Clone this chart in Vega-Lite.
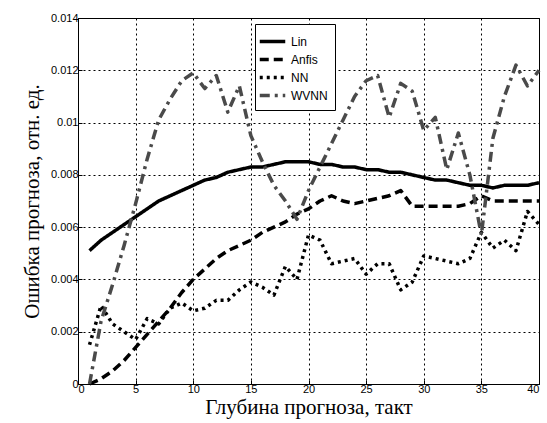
{
  "$schema": "https://vega.github.io/schema/vega-lite/v6.json",
  "width": 461,
  "height": 366,
  "autosize": {"type": "none"},
  "padding": {"left": 78, "top": 18, "right": 8, "bottom": 39},
  "background": "white",
  "config": {
    "view": {"stroke": "black", "strokeWidth": 1},
    "axis": {
      "labelFont": "Liberation Sans", "labelFontSize": 11, "labelColor": "black",
      "titleFont": "Liberation Serif", "titleFontSize": 21, "titleFontWeight": "normal", "titleColor": "black",
      "grid": true, "gridColor": "black", "gridDash": [2, 3], "gridOpacity": 1, "gridWidth": 1,
      "domain": false, "tickColor": "black", "tickSize": -4
    }
  },
  "data": {"values": [
    {"x":1,"Lin":0.0051,"Anfis":0.0000,"NN":0.0015,"WVNN":0.0000},
    {"x":2,"Lin":0.0055,"Anfis":0.0002,"NN":0.0030,"WVNN":0.0024},
    {"x":3,"Lin":0.0058,"Anfis":0.0005,"NN":0.0023,"WVNN":0.0038},
    {"x":4,"Lin":0.0061,"Anfis":0.0009,"NN":0.0020,"WVNN":0.0053},
    {"x":5,"Lin":0.0064,"Anfis":0.0014,"NN":0.0017,"WVNN":0.0069},
    {"x":6,"Lin":0.0067,"Anfis":0.0019,"NN":0.0025,"WVNN":0.0086},
    {"x":7,"Lin":0.0070,"Anfis":0.0024,"NN":0.0023,"WVNN":0.0101},
    {"x":8,"Lin":0.0072,"Anfis":0.0029,"NN":0.0029,"WVNN":0.0109},
    {"x":9,"Lin":0.0074,"Anfis":0.0035,"NN":0.0031,"WVNN":0.0116},
    {"x":10,"Lin":0.0076,"Anfis":0.0040,"NN":0.0028,"WVNN":0.0119},
    {"x":11,"Lin":0.0078,"Anfis":0.0044,"NN":0.0029,"WVNN":0.0113},
    {"x":12,"Lin":0.0079,"Anfis":0.0048,"NN":0.0032,"WVNN":0.0118},
    {"x":13,"Lin":0.0081,"Anfis":0.0051,"NN":0.0032,"WVNN":0.0104},
    {"x":14,"Lin":0.0082,"Anfis":0.0053,"NN":0.0036,"WVNN":0.0114},
    {"x":15,"Lin":0.0083,"Anfis":0.0055,"NN":0.0039,"WVNN":0.0095},
    {"x":16,"Lin":0.0083,"Anfis":0.0058,"NN":0.0037,"WVNN":0.0085},
    {"x":17,"Lin":0.0084,"Anfis":0.0060,"NN":0.0034,"WVNN":0.0076},
    {"x":18,"Lin":0.0085,"Anfis":0.0062,"NN":0.0045,"WVNN":0.0070},
    {"x":19,"Lin":0.0085,"Anfis":0.0065,"NN":0.0040,"WVNN":0.0063},
    {"x":20,"Lin":0.0085,"Anfis":0.0067,"NN":0.0057,"WVNN":0.0074},
    {"x":21,"Lin":0.0084,"Anfis":0.0070,"NN":0.0055,"WVNN":0.0083},
    {"x":22,"Lin":0.0084,"Anfis":0.0072,"NN":0.0046,"WVNN":0.0092},
    {"x":23,"Lin":0.0083,"Anfis":0.0070,"NN":0.0047,"WVNN":0.0101},
    {"x":24,"Lin":0.0083,"Anfis":0.0069,"NN":0.0048,"WVNN":0.0110},
    {"x":25,"Lin":0.0082,"Anfis":0.0070,"NN":0.0042,"WVNN":0.0116},
    {"x":26,"Lin":0.0082,"Anfis":0.0071,"NN":0.0046,"WVNN":0.0118},
    {"x":27,"Lin":0.0081,"Anfis":0.0072,"NN":0.0046,"WVNN":0.0102},
    {"x":28,"Lin":0.0081,"Anfis":0.0074,"NN":0.0036,"WVNN":0.0115},
    {"x":29,"Lin":0.0080,"Anfis":0.0068,"NN":0.0039,"WVNN":0.0112},
    {"x":30,"Lin":0.0079,"Anfis":0.0068,"NN":0.0049,"WVNN":0.0097},
    {"x":31,"Lin":0.0078,"Anfis":0.0068,"NN":0.0048,"WVNN":0.0102},
    {"x":32,"Lin":0.0078,"Anfis":0.0068,"NN":0.0047,"WVNN":0.0082},
    {"x":33,"Lin":0.0077,"Anfis":0.0068,"NN":0.0046,"WVNN":0.0096},
    {"x":34,"Lin":0.0076,"Anfis":0.0069,"NN":0.0048,"WVNN":0.0080},
    {"x":35,"Lin":0.0076,"Anfis":0.0072,"NN":0.0058,"WVNN":0.0057},
    {"x":36,"Lin":0.0075,"Anfis":0.0070,"NN":0.0052,"WVNN":0.0094},
    {"x":37,"Lin":0.0076,"Anfis":0.0070,"NN":0.0055,"WVNN":0.0110},
    {"x":38,"Lin":0.0076,"Anfis":0.0070,"NN":0.0051,"WVNN":0.0122},
    {"x":39,"Lin":0.0076,"Anfis":0.0070,"NN":0.0066,"WVNN":0.0114},
    {"x":40,"Lin":0.0077,"Anfis":0.0070,"NN":0.0061,"WVNN":0.0120}
  ]},
  "transform": [
    {"fold": ["Lin", "Anfis", "NN", "WVNN"], "as": ["series", "value"]}
  ],
  "mark": {"type": "line", "strokeWidth": 3.5, "strokeCap": "butt", "strokeJoin": "round"},
  "encoding": {
    "x": {
      "field": "x", "type": "quantitative",
      "scale": {"domain": [0, 40], "nice": false},
      "axis": {"values": [0,5,10,15,20,25,30,35,40], "title": "Глубина прогноза, такт", "titlePadding": 2, "labelPadding": 3}
    },
    "y": {
      "field": "value", "type": "quantitative",
      "scale": {"domain": [0, 0.014], "nice": false},
      "axis": {"values": [0,0.002,0.004,0.006,0.008,0.01,0.012,0.014], "format": ".3~f", "title": "Ошибка прогноза, отн. ед.", "titlePadding": 8, "labelPadding": 4}
    },
    "color": {
      "field": "series", "type": "nominal",
      "scale": {"domain": ["Lin", "Anfis", "NN", "WVNN"], "range": ["#000000", "#000000", "#000000", "#4a4a4a"]},
      "legend": {
        "title": null, "orient": "none", "legendX": 177, "legendY": 6,
        "symbolType": "M-1.5,0H1.5", "symbolSize": 289, "symbolStrokeWidth": 3.5,
        "labelFont": "Liberation Sans", "labelFontSize": 12, "labelColor": "black", "labelOffset": 8,
        "strokeColor": "black", "fillColor": "white", "padding": 7, "rowPadding": 0
      }
    },
    "strokeDash": {
      "field": "series", "type": "nominal",
      "scale": {"domain": ["Lin", "Anfis", "NN", "WVNN"], "range": [[1, 0], [9, 5], [3, 4], [10, 5, 3, 5]]},
      "legend": {
        "title": null, "orient": "none", "legendX": 177, "legendY": 6,
        "symbolType": "M-1.5,0H1.5", "symbolSize": 289, "symbolStrokeWidth": 3.5,
        "labelFont": "Liberation Sans", "labelFontSize": 12, "labelColor": "black", "labelOffset": 8,
        "strokeColor": "black", "fillColor": "white", "padding": 7, "rowPadding": 0
      }
    }
  }
}
